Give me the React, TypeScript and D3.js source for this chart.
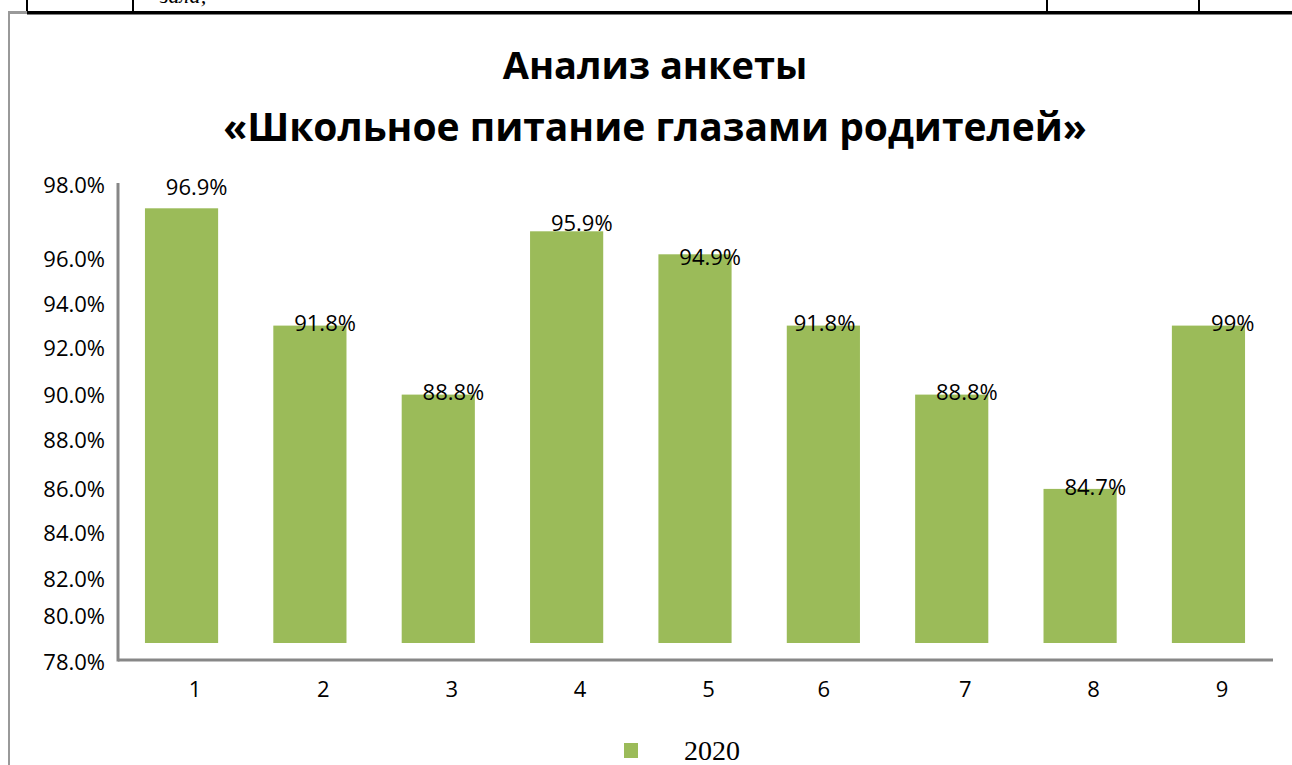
import React from 'react';
import * as d3 from 'd3';

const categories = ['1', '2', '3', '4', '5', '6', '7', '8', '9'];
const values = [96.9, 91.8, 88.8, 95.9, 94.9, 91.8, 88.8, 84.7, 91.8];
const valueLabels = ['96.9%', '91.8%', '88.8%', '95.9%', '94.9%', '91.8%', '88.8%', '84.7%', '99%'];
const yTicks = [78, 80, 82, 84, 86, 88, 90, 92, 94, 96, 98];
const seriesName = '2020';

const W = 1292;
const H = 765;
const green = '#9bbb59';
const axisGray = '#878787';
const sans = '"Open Sans", "Noto Sans", sans-serif';

const App = () => {
  const x = d3
    .scaleBand<string>()
    .domain(categories)
    .range([118, 1272])
    .paddingInner(0.43)
    .paddingOuter(0.21);

  const y = d3.scaleLinear().domain([78, 98]).range([643, 183]);

  // tick labels in the source sit on their own uneven spacing
  const tickY = d3
    .scaleLinear()
    .domain(yTicks)
    .range([662, 616, 579, 533, 489, 440, 395, 348, 304, 259, 185]);

  const axisBottom = 660;

  return (
    <svg
      width={W}
      height={H}
      style={{ position: 'absolute', left: 0, top: 0, background: '#fff' }}
    >
      {/* table remnants from the document page */}
      <text
        x={160}
        y={3}
        fontFamily='"Liberation Serif", serif'
        fontStyle="italic"
        fontSize={22}
      >
        зала;
      </text>
      <rect x={27} y={11} width={W - 27} height={3.5} fill="#000" />
      {[27, 133, 1047, 1199].map((vx) => (
        <rect key={vx} x={vx - 1} y={0} width={2} height={12} fill="#000" />
      ))}
      <rect x={8} y={11} width={19} height={3} fill="#999" />
      <rect x={8} y={11} width={2} height={H} fill="#999" />

      {/* title */}
      <text
        x={655}
        y={79}
        textAnchor="middle"
        fontFamily={sans}
        fontWeight={700}
        fontSize={38}
      >
        Анализ анкеты
      </text>
      <text
        x={655}
        y={141}
        textAnchor="middle"
        fontFamily={sans}
        fontWeight={700}
        fontSize={39}
      >
        «Школьное питание глазами родителей»
      </text>

      {/* y tick labels */}
      {yTicks.map((t) => (
        <text
          key={t}
          x={105}
          y={tickY(t)}
          dy="0.35em"
          textAnchor="end"
          fontFamily={sans}
          fontSize={22}
        >
          {t.toFixed(1) + '%'}
        </text>
      ))}

      {/* bars */}
      {values.map((v, i) => (
        <rect
          key={i}
          x={x(categories[i])}
          y={y(v)}
          width={x.bandwidth()}
          height={y(78) - y(v)}
          fill={green}
        />
      ))}

      {/* axes */}
      <line
        x1={118}
        x2={118}
        y1={183}
        y2={axisBottom + 1.5}
        stroke={axisGray}
        strokeWidth={3}
      />
      <line
        x1={118}
        x2={1273}
        y1={axisBottom}
        y2={axisBottom}
        stroke={axisGray}
        strokeWidth={3}
      />

      {/* data labels */}
      {values.map((v, i) => {
        const cx = (x(categories[i]) as number) + x.bandwidth() / 2;
        const shift = i === 5 ? -14 : 0;
        const lift = i === 0 ? 21 : i === 3 ? 8 : i === 4 ? -3 : 2;
        return (
          <text
            key={i}
            x={cx + 46 + shift}
            y={y(v) - lift}
            dy="0.35em"
            textAnchor="end"
            fontFamily={sans}
            fontSize={22}
          >
            {valueLabels[i]}
          </text>
        );
      })}

      {/* category labels */}
      {categories.map((c, i) => {
        const cx = (x(c) as number) + x.bandwidth() / 2;
        const shift = i === 5 ? -13 : 0;
        return (
          <text
            key={c}
            x={cx + 13.5 + shift}
            y={697}
            textAnchor="middle"
            fontFamily={sans}
            fontSize={22}
          >
            {c}
          </text>
        );
      })}

      {/* legend */}
      <rect x={624} y={743} width={14} height={15} fill={green} />
      <text x={684} y={760} fontFamily='"Liberation Serif", serif' fontSize={28}>
        {seriesName}
      </text>
    </svg>
  );
};

export default App;
